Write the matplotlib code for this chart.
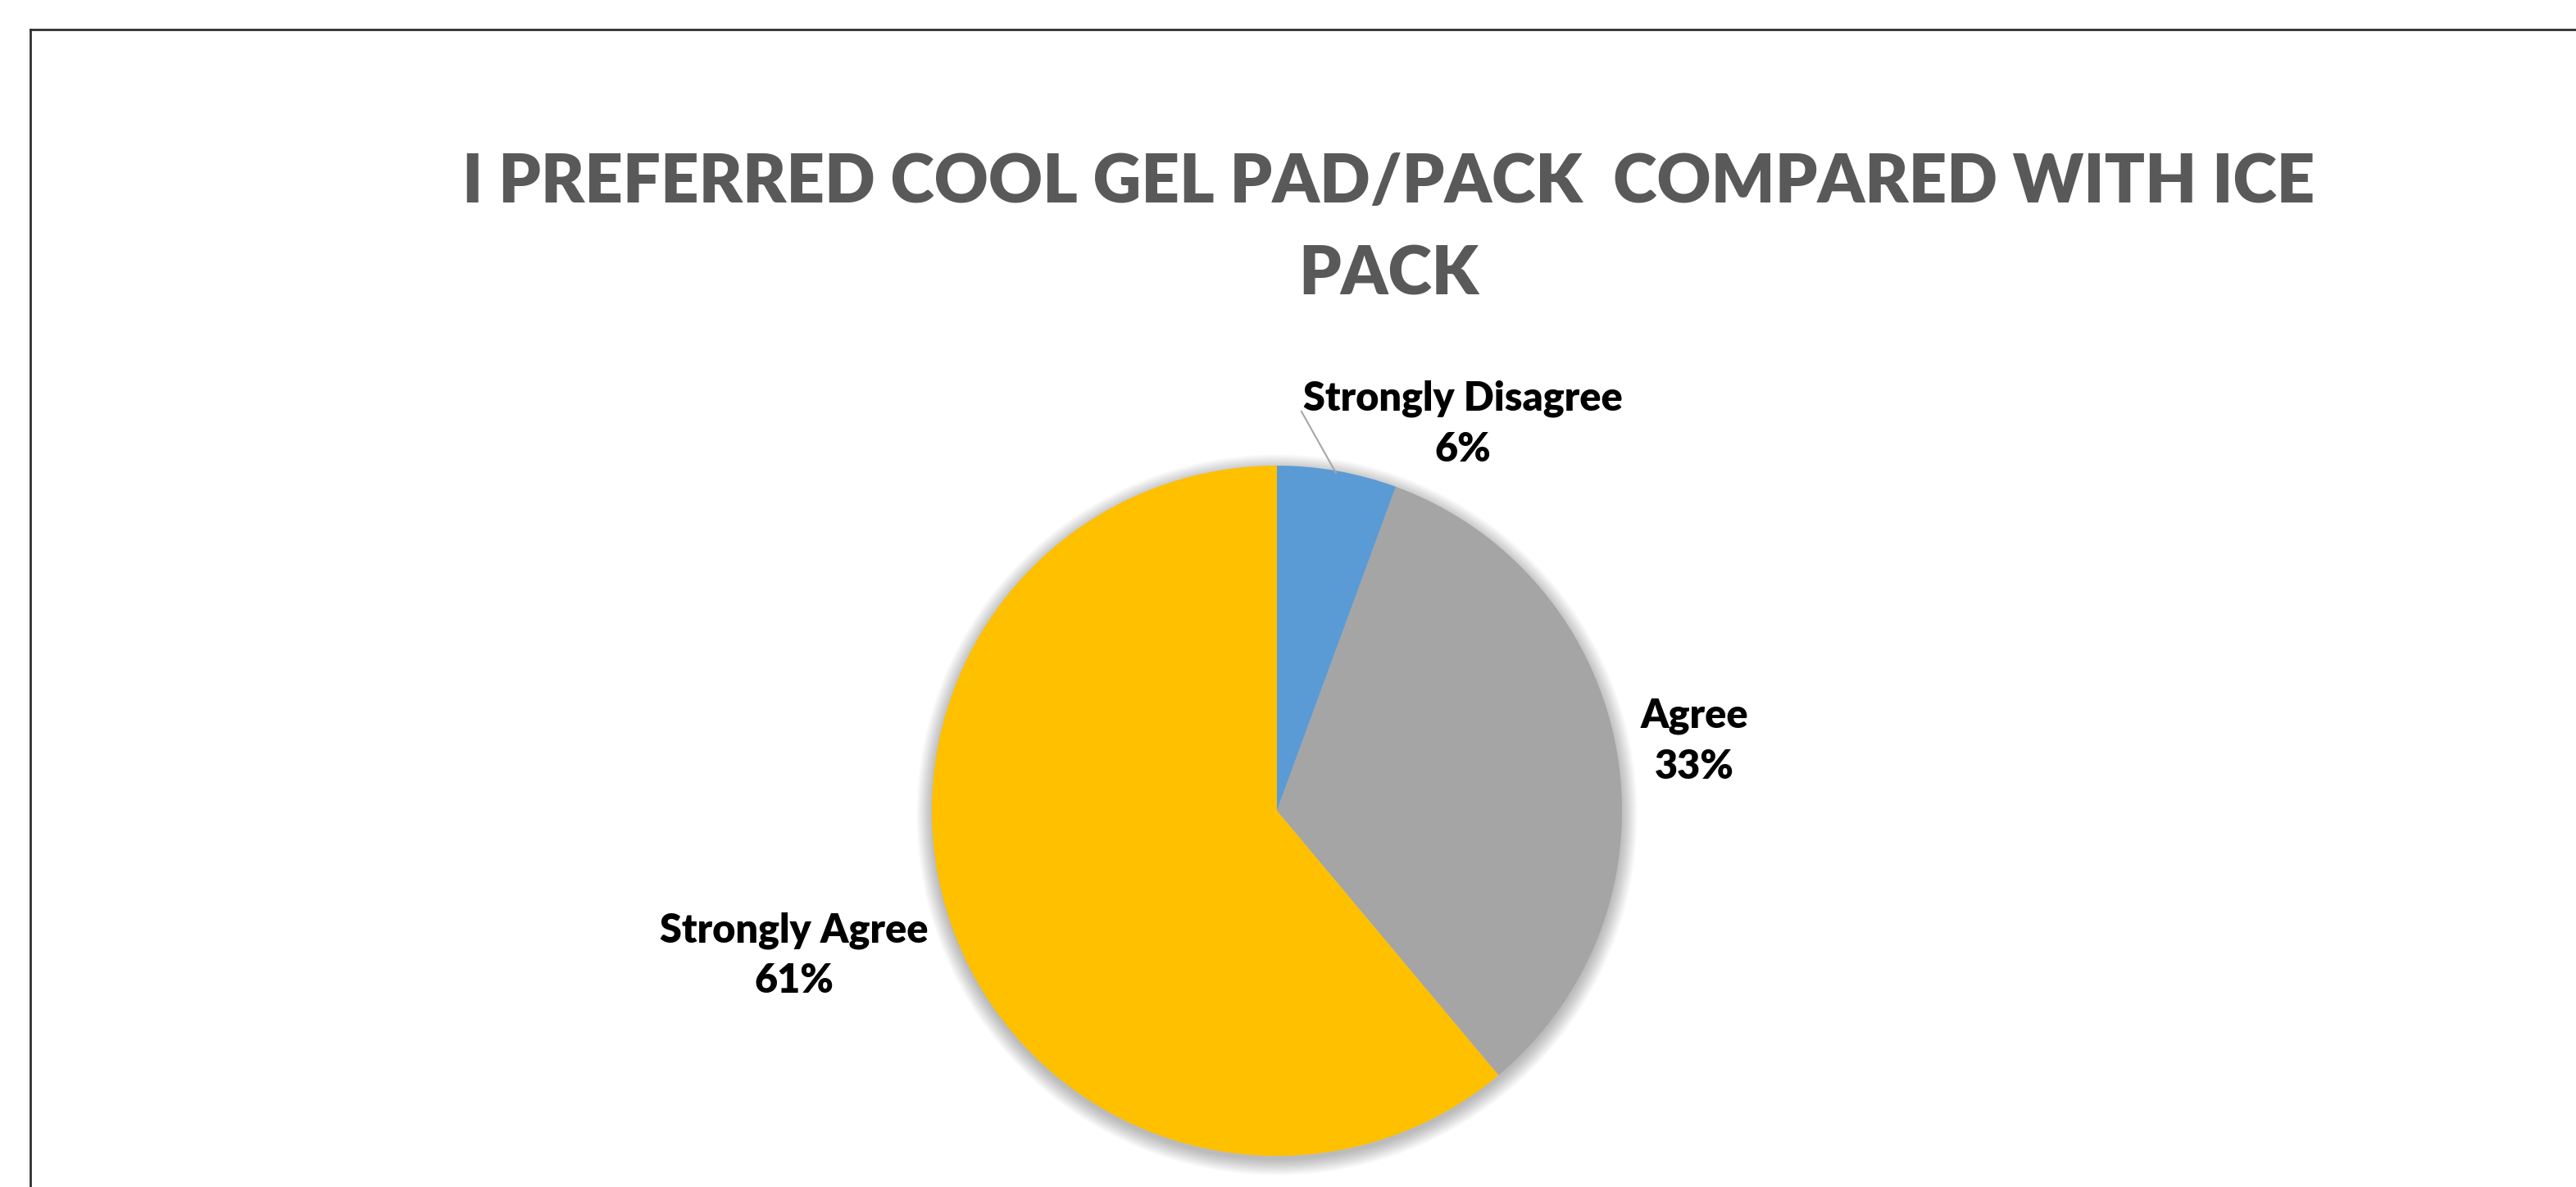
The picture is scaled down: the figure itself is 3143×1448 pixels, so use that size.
import matplotlib.pyplot as plt
from matplotlib.patches import Circle
from matplotlib.lines import Line2D

labels = ['Strongly Disagree', 'Agree', 'Strongly Agree']
values = [5.6, 33.3, 61.1]
colors = ['#5B9BD5', '#A5A5A5', '#FFC000']
title = 'I PREFERRED COOL GEL PAD/PACK  COMPARED WITH ICE\nPACK'

# label block centres, in pie-radius units
label_pos = [(0.54, 1.12), (1.21, 0.20), (-1.40, -0.42)]

W, H = 3143, 1448
fig = plt.figure(figsize=(W / 100, H / 100), dpi=100)
plt.rcParams['font.family'] = ['Lato', 'DejaVu Sans']

cx, cy, r = 1558, 989, 421
ax = fig.add_axes([(cx - r) / W, (H - cy - r) / H, 2 * r / W, 2 * r / H])

# soft shadow
for i in range(12):
    ax.add_patch(Circle((0, -0.012), 1.0 + 0.004 * i, color='black',
                        alpha=0.022, lw=0, zorder=0, clip_on=False))

wedges, _ = ax.pie(values, colors=colors, startangle=90, counterclock=False,
                   radius=1.0, wedgeprops=dict(linewidth=0))
for w in wedges:
    w.set_zorder(2)

for lab, v, (x, y) in zip(labels, values, label_pos):
    ax.text(x, y, f'{lab}\n{round(v)}%', ha='center', va='center',
            fontsize=35, fontweight='heavy', color='black',
            linespacing=1.45, zorder=3)

# leader line for the small slice
ax.plot([0.071, 0.171], [1.157, 0.979], color='#A6A6A6', lw=1.5, zorder=3,
        clip_on=False)

ax.set_xlim(-1, 1)
ax.set_ylim(-1, 1)
ax.set_aspect('equal')
ax.axis('off')

fig.text(1694 / W, 1 - 280 / H, title, ha='center', va='center',
         fontsize=58.5, fontweight='heavy', color='#595959', linespacing=1.62)

# chart frame (top and left edges visible)
fig.add_artist(Line2D([37 / W, 37 / W], [0, 1 - 36 / H], color='#303030',
                      lw=2, transform=fig.transFigure))
fig.add_artist(Line2D([37 / W, 1], [1 - 36 / H, 1 - 36 / H], color='#303030',
                      lw=2, transform=fig.transFigure))

fig.savefig('out.png', dpi=100, facecolor='white')
